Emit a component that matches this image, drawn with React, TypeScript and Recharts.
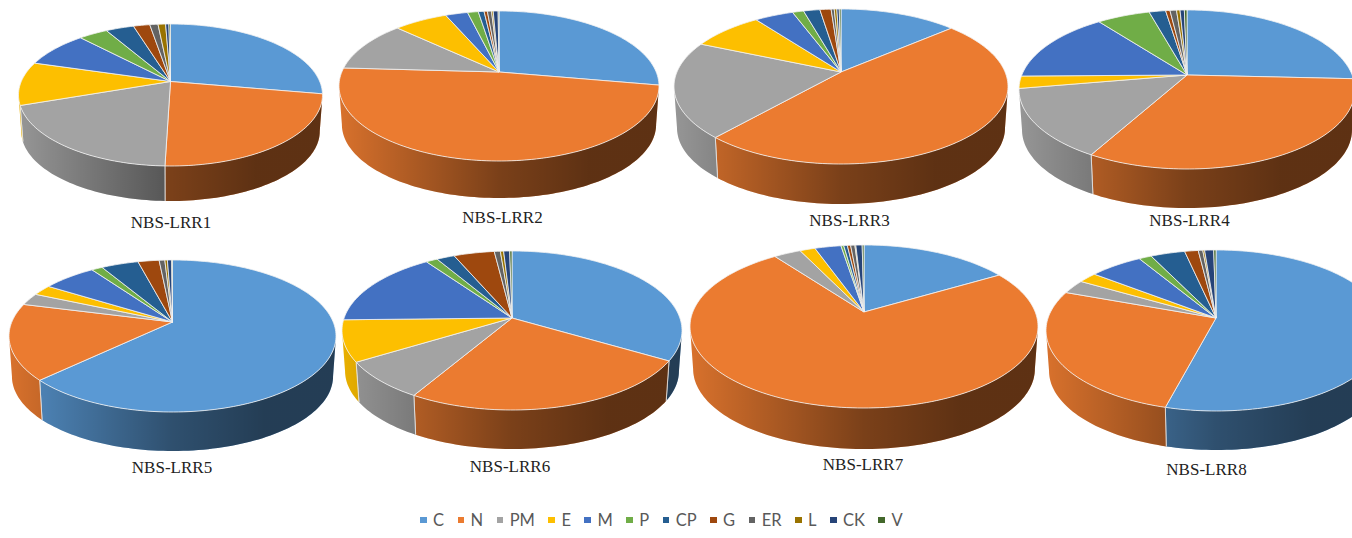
import React from 'react';
import { PieChart, Pie, Legend } from 'recharts';

const categories = ['C', 'N', 'PM', 'E', 'M', 'P', 'CP', 'G', 'ER', 'L', 'CK', 'V'];
const colors = ['#5A99D4', '#EB7B30', '#A3A3A3', '#FDBF00', '#4371C2', '#70AD47', '#255E91', '#9E480E', '#636363', '#997300', '#264478', '#43682B'];

// share of each category, in percent
const lrr1 = [27.8, 22.7, 19.2, 9.9, 8.4, 3.7, 3.6, 2.1, 1.05, 0.97, 0.42, 0.2];
const lrr2 = [27.8, 48.1, 11.1, 6.5, 2.7, 1.3, 0.7, 0.4, 0.5, 0.2, 0.6, 0.1];
const lrr3 = [13.6, 47.8, 20.1, 8.3, 4.5, 1.3, 1.9, 1.3, 0.36, 0.3, 0.28, 0.2];
const lrr4 = [25.8, 32.4, 14.2, 2.5, 14.8, 6.1, 1.9, 0.5, 0.75, 0.4, 0.5, 0.3];
const lrr5 = [62.8, 16.2, 2.6, 2.3, 6.3, 1.3, 4.4, 2.5, 0.67, 0.3, 0.5, 0.1];
const lrr6 = [33.5, 24.9, 7.8, 8.4, 15.6, 1.3, 2.0, 4.5, 0.67, 0.36, 0.67, 0.25];
const lrr7 = [16.5, 73.4, 3.0, 1.7, 2.9, 0.3, 0.4, 0.36, 0.47, 0.1, 0.7, 0.2];
const lrr8 = [54.1, 26.4, 2.8, 2.1, 5.9, 1.4, 3.8, 1.5, 0.5, 0.2, 1.0, 0.25];

const names = ['NBS-LRR1', 'NBS-LRR2', 'NBS-LRR3', 'NBS-LRR4', 'NBS-LRR5', 'NBS-LRR6', 'NBS-LRR7', 'NBS-LRR8'];
const seriesList = [lrr1, lrr2, lrr3, lrr4, lrr5, lrr6, lrr7, lrr8];

// cx/cy = apex, rx = half width, up/down = reach of the tilted disc from the apex, depth = wall height
const layout = [
  { cx: 170.5, cy: 81.5, rx: 152, up: 57.5, down: 84.5, depth: 35, lx: 171, ly: 228 },
  { cx: 499, cy: 72, rx: 160, up: 61, down: 89, depth: 37, lx: 502.5, ly: 223 },
  { cx: 841, cy: 72, rx: 167, up: 63, down: 92, depth: 40, lx: 849.5, ly: 226 },
  { cx: 1187, cy: 75, rx: 168, up: 65, down: 94, depth: 39, lx: 1189.5, ly: 226 },
  { cx: 172.5, cy: 322, rx: 163.5, up: 62, down: 90, depth: 39, lx: 172, ly: 473 },
  { cx: 512, cy: 318, rx: 170, up: 67, down: 92, depth: 39, lx: 510, ly: 472 },
  { cx: 864, cy: 312, rx: 174, up: 67, down: 96, depth: 41, lx: 863, ly: 470 },
  { cx: 1216, cy: 318, rx: 170, up: 68, down: 93, depth: 39, lx: 1206.5, ly: 475 },
];

const RAD = Math.PI / 180;
// the lower rim sits a little further from the viewer than the top face
const RIM_SCALE = 0.982;

// Sector drawn as a tilted disc slice with an extruded front wall.
function DiscSlice(props: any) {
  const { cx, cy, outerRadius, startAngle, endAngle, fill, geo, pieIndex, index } = props;
  const k = (geo.down - geo.up) / (geo.down + geo.up);
  const s = geo.up * (1 + k);
  const a = outerRadius * Math.sqrt(1 - k * k);

  const project = (deg: number): [number, number] => {
    const x = Math.cos(deg * RAD);
    const y = -Math.sin(deg * RAD);
    const w = 1 - k * y;
    return [cx + (a * x) / w, cy + (s * y) / w];
  };
  const lowerRim = (p: [number, number]): [number, number] => [
    cx + (p[0] - cx) * RIM_SCALE,
    cy + (p[1] - cy) * RIM_SCALE + geo.depth + geo.down * (1 - RIM_SCALE),
  ];
  const arc = (from: number, to: number) => {
    const steps = Math.max(2, Math.ceil(Math.abs(from - to) / 1.5));
    const pts: [number, number][] = [];
    for (let i = 0; i <= steps; i++) pts.push(project(from + ((to - from) * i) / steps));
    return pts;
  };

  const top = arc(startAngle, endAngle);
  const topPath = `M${cx},${cy} ` + top.map((p) => `L${p[0]},${p[1]}`).join(' ') + ' Z';

  // the wall only shows between the two silhouette tangents of the disc
  const tangent = Math.asin(k) / RAD;
  const frontStart = -tangent;
  const frontEnd = -180 + tangent;
  const wallFrom = Math.min(startAngle, frontStart);
  const wallTo = Math.max(endAngle, frontEnd);
  let wallPath = '';
  if (wallFrom > wallTo) {
    const edge = arc(wallFrom, wallTo);
    const lower = edge.slice().reverse().map(lowerRim).map((p) => `L${p[0]},${p[1]}`).join(' ');
    wallPath = 'M' + edge.map((p) => `${p[0]},${p[1]}`).join(' L') + ' ' + lower + ' Z';
  }
  const seams = [startAngle, endAngle].filter((d) => d < frontStart && d > frontEnd).map(project);

  const shadeId = `wall-${pieIndex}-${index}`;
  return (
    <g>
      <defs>
        <linearGradient id={shadeId} gradientUnits="userSpaceOnUse" x1={cx - geo.rx} x2={cx + geo.rx} y1={0} y2={0}>
          <stop offset="0" stopColor="#000" stopOpacity={0.08} />
          <stop offset="0.5" stopColor="#000" stopOpacity={0.48} />
          <stop offset="0.78" stopColor="#000" stopOpacity={0.6} />
          <stop offset="1" stopColor="#000" stopOpacity={0.6} />
        </linearGradient>
      </defs>
      {wallPath && <path d={wallPath} fill={fill} stroke="none" />}
      {wallPath && <path d={wallPath} fill={`url(#${shadeId})`} stroke="none" />}
      {seams.map((p, i) => {
        const q = lowerRim(p);
        return <line key={i} x1={p[0]} y1={p[1]} x2={q[0]} y2={q[1]} stroke="#e8e8e8" strokeWidth={0.8} />;
      })}
      <path d={topPath} fill={fill} stroke="#f2f2f2" strokeWidth={0.8} strokeLinejoin="round" />
    </g>
  );
}

function LegendRow() {
  return (
    <div style={{ display: 'flex', alignItems: 'center', fontFamily: 'Lato, sans-serif', fontSize: 16.5, color: '#595959', lineHeight: '20px' }}>
      {categories.map((name, i) => (
        <div key={name} style={{ display: 'flex', alignItems: 'center', marginRight: 13.5 }}>
          <span style={{ width: 6.5, height: 6.5, background: colors[i], marginRight: 6.5 }} />
          <span>{name}</span>
        </div>
      ))}
    </div>
  );
}

export default function App() {
  return (
    <div style={{ position: 'absolute', left: 0, top: 0, width: 1352, height: 538, background: '#fff', overflow: 'hidden' }}>
      <PieChart width={1352} height={538} margin={{ top: 0, right: 0, bottom: 0, left: 0 }}>
        {seriesList.map((values, p) => (
          <Pie
            key={names[p]}
            name={names[p]}
            data={values.map((value, i) => ({ name: categories[i], value, fill: colors[i] }))}
            dataKey="value"
            nameKey="name"
            cx={layout[p].cx}
            cy={layout[p].cy}
            outerRadius={layout[p].rx}
            startAngle={90}
            endAngle={-270}
            stroke="none"
            isAnimationActive={false}
            shape={(sp: any) => <DiscSlice {...sp} geo={layout[p]} pieIndex={p} />}
          />
        ))}
        {names.map((label, p) => (
          <text key={label} x={layout[p].lx} y={layout[p].ly} textAnchor="middle" fontFamily="Liberation Serif" fontSize={17} fill="#222">
            {label}
          </text>
        ))}
        <Legend content={() => <LegendRow />} wrapperStyle={{ left: 420, top: 510, width: 540, bottom: 'auto' }} />
      </PieChart>
    </div>
  );
}
